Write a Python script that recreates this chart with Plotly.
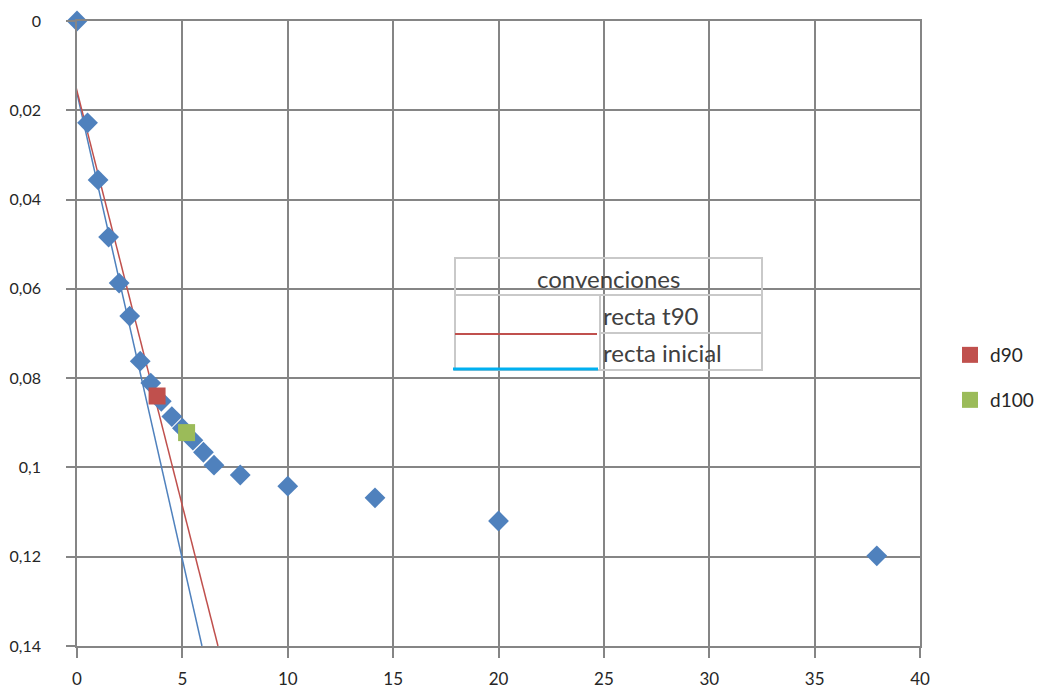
import plotly.graph_objects as go

# ---- data ----
raiz_t = [0, 0.5, 1, 1.5, 2, 2.5, 3, 3.5, 4, 4.5, 5, 5.5, 6, 6.5, 7.746, 10, 14.14, 20, 37.95]
deform = [0, 0.0228, 0.0356, 0.0484, 0.0587, 0.0661, 0.0762, 0.0811, 0.0852, 0.0886,
          0.0912, 0.0939, 0.0966, 0.0995, 0.1017, 0.1042, 0.1068, 0.1120, 0.1198]

recta_t90_x = [-0.23, 6.69]
recta_t90_y = [0.0114, 0.14]
recta_inicial_x = [-0.23, 5.93]
recta_inicial_y = [0.0114, 0.14]

d90_x = [3.8]
d90_y = [0.084]
d100_x = [5.2]
d100_y = [0.0922]

x_ticks = [0, 5, 10, 15, 20, 25, 30, 35, 40]
y_ticks = [0, 0.02, 0.04, 0.06, 0.08, 0.1, 0.12, 0.14]
y_ticktext = ["0", "0,02", "0,04", "0,06", "0,08", "0,1", "0,12", "0,14"]

BLUE = "#4F81BD"
RED = "#C0504D"
GREEN = "#9BBB59"
GRID = "#858585"
FONT = "Lato"
TXT = "#262626"

fig = go.Figure()

fig.add_trace(go.Scatter(x=recta_inicial_x, y=recta_inicial_y, mode="lines",
                         line=dict(color=BLUE, width=1.5), showlegend=False,
                         cliponaxis=False, hoverinfo="skip"))
fig.add_trace(go.Scatter(x=recta_t90_x, y=recta_t90_y, mode="lines",
                         line=dict(color=RED, width=1.5), showlegend=False,
                         cliponaxis=False, hoverinfo="skip"))
fig.add_trace(go.Scatter(x=raiz_t, y=deform, mode="markers",
                         marker=dict(symbol="diamond", size=16, color=BLUE),
                         showlegend=False, cliponaxis=False))
fig.add_trace(go.Scatter(x=d90_x, y=d90_y, mode="markers", name="d90",
                         marker=dict(symbol="square", size=17, color=RED),
                         legend="legend", cliponaxis=False))
fig.add_trace(go.Scatter(x=d100_x, y=d100_y, mode="markers", name="d100",
                         marker=dict(symbol="square", size=17, color=GREEN),
                         legend="legend2", cliponaxis=False))

# the page puts the figure 8px in from the window's top-left corner
OFF = 8
FIG_W, FIG_H = 1042 - OFF, 688 - OFF

# plot area in screen pixels
L, R, T, B = 77, 920, 21, 646
W, H = R - L, B - T


def px(xp):
    return (xp - L) / W


def py(yp):
    return (B - yp) / H


shapes = []
box_col = "#c9c9c9"
# outer box of "convenciones"
shapes.append(dict(type="rect", xref="paper", yref="paper",
                   x0=px(455), x1=px(762), y0=py(370), y1=py(258),
                   line=dict(color=box_col, width=2), fillcolor="rgba(0,0,0,0)"))
shapes.append(dict(type="line", xref="paper", yref="paper",
                   x0=px(455), x1=px(762), y0=py(295), y1=py(295),
                   line=dict(color=box_col, width=2)))
shapes.append(dict(type="line", xref="paper", yref="paper",
                   x0=px(600), x1=px(600), y0=py(295), y1=py(370),
                   line=dict(color=box_col, width=2)))
shapes.append(dict(type="line", xref="paper", yref="paper",
                   x0=px(600), x1=px(762), y0=py(333), y1=py(333),
                   line=dict(color=box_col, width=2)))
# sample lines
shapes.append(dict(type="line", xref="paper", yref="paper",
                   x0=px(455), x1=px(597), y0=py(334), y1=py(334),
                   line=dict(color=RED, width=2)))
shapes.append(dict(type="line", xref="paper", yref="paper",
                   x0=px(453), x1=px(598), y0=py(369), y1=py(369),
                   line=dict(color="#00B0F0", width=3)))

annotations = [
    dict(text="convenciones", xref="paper", yref="paper", x=px(608), y=py(278),
         showarrow=False, xanchor="center", yanchor="middle",
         font=dict(family=FONT, size=24, color="#404040")),
    dict(text="recta t90", xref="paper", yref="paper", x=px(601), y=py(315),
         showarrow=False, xanchor="left", yanchor="middle",
         font=dict(family=FONT, size=24, color="#404040")),
    dict(text="recta inicial", xref="paper", yref="paper", x=px(601), y=py(352),
         showarrow=False, xanchor="left", yanchor="middle",
         font=dict(family=FONT, size=24, color="#404040")),
]

fig.update_layout(
    width=FIG_W, height=FIG_H,
    margin=dict(l=L - OFF, r=1042 - R, t=T - OFF, b=688 - B, autoexpand=False),
    paper_bgcolor="white", plot_bgcolor="white",
    font=dict(family=FONT, size=17, color=TXT),
    shapes=shapes, annotations=annotations,
    legend=dict(x=px(950), y=py(355), xanchor="left", yanchor="middle",
                itemwidth=30, font=dict(size=19, color=TXT), bgcolor="rgba(0,0,0,0)"),
    legend2=dict(x=px(950), y=py(400), xanchor="left", yanchor="middle",
                 itemwidth=30, font=dict(size=19, color=TXT), bgcolor="rgba(0,0,0,0)"),
)

fig.update_xaxes(range=[0, 40], tickvals=x_ticks, ticktext=[str(v) for v in x_ticks],
                 showgrid=True, gridcolor=GRID, gridwidth=1.5,
                 showline=True, linecolor=GRID, linewidth=1.5, mirror=True,
                 ticks="outside", ticklen=10, tickcolor=GRID, tickwidth=1.5,
                 ticklabelstandoff=7, zeroline=False, automargin=False)
fig.update_yaxes(range=[0.14, 0], tickvals=y_ticks, ticktext=y_ticktext,
                 tickfont=dict(size=16),
                 showgrid=True, gridcolor=GRID, gridwidth=1.5,
                 showline=True, linecolor=GRID, linewidth=1.5, mirror=True,
                 ticks="outside", ticklen=9, tickcolor=GRID, tickwidth=1.5,
                 ticklabelstandoff=22, zeroline=False, automargin=False)

fig.write_html("out.html")
